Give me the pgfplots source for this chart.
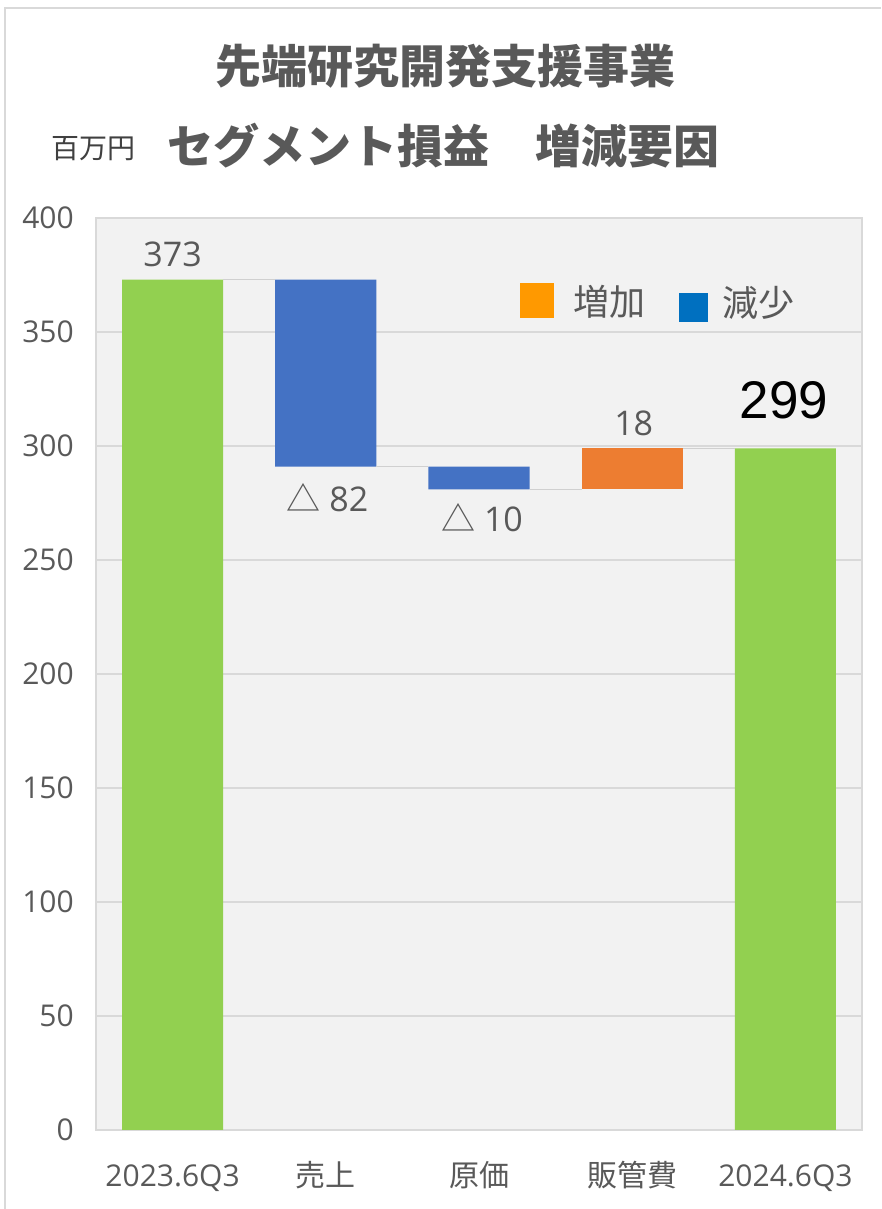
\documentclass[border=0pt]{standalone}
\usepackage{fontspec}
\setmainfont{Open Sans}
\newfontfamily\cjk{Noto Sans CJK JP}
\newfontfamily\arial{Liberation Sans}
\usepackage{pgfplots}
\usepackage{pgfplotstable}
\pgfplotsset{compat=1.18}
\definecolor{txt}{HTML}{595959}
\definecolor{gridc}{HTML}{D9D9D9}
\definecolor{bgc}{HTML}{F2F2F2}
\definecolor{grn}{HTML}{92D050}
\definecolor{blu}{HTML}{4472C4}
\definecolor{org}{HTML}{ED7D31}
\definecolor{lorg}{HTML}{FF9900}
\definecolor{lblu}{HTML}{0070C0}
\definecolor{conn}{HTML}{D0D0D0}

\pgfplotstableread{
x base tot dec inc
0 0   373 0  0
1 291 0   82 0
2 281 0   10 0
3 281 0   0  18
4 0   299 0  0
}\wf

\begin{document}
\begin{tikzpicture}[x=1pt,y=1pt]
\path[use as bounding box] (0,0) rectangle (881,1209);
\draw[gridc, line width=1.5pt] (5,0) -- (5,1201) -- (881,1201);
\node[txt, font=\cjk\bfseries\fontsize{46}{50}\selectfont, inner sep=0] at (445,1143) {先端研究開発支援事業};
\node[black!75, font=\cjk\fontsize{28}{30}\selectfont, inner sep=0] at (93,1060) {百万円};
\node[txt, font=\cjk\bfseries\fontsize{46}{50}\selectfont, inner sep=0] at (443.5,1063) {セグメント損益　増減要因};

\begin{axis}[
  at={(96pt,79pt)}, anchor=south west,
  scale only axis, width=766pt, height=912pt,
  xmin=-0.5, xmax=4.5, ymin=0, ymax=400,
  ytick={0,50,...,400},
  ymajorgrids, grid style={gridc, line width=1.2pt},
  axis background/.style={fill=bgc},
  axis line style={gridc, line width=1.2pt},
  tick style={draw=none},
  xtick={0,1,2,3,4},
  xticklabels={2023.6Q3,{\cjk 売上},{\cjk 原価},{\cjk 販管費},2024.6Q3},
  /pgf/number format/assume math mode=true,
  yticklabel style={txt, font=\fontsize{30}{30}\selectfont, anchor=east, inner sep=0pt, xshift=-22pt},
  xticklabel style={txt, font=\fontsize{30}{30}\selectfont, anchor=base, inner sep=0pt, yshift=-56pt},
  ybar stacked, bar width=0.66,
]
\addplot[draw=none, fill=none] table[x=x, y=base] {\wf};
\addplot[draw=none, fill=grn] table[x=x, y=tot] {\wf};
\addplot[draw=none, fill=blu] table[x=x, y=dec] {\wf};
\addplot[draw=none, fill=org] table[x=x, y=inc] {\wf};
\end{axis}

\begin{axis}[
  at={(96pt,79pt)}, anchor=south west,
  scale only axis, width=766pt, height=912pt,
  xmin=-0.5, xmax=4.5, ymin=0, ymax=400,
  hide axis, clip=false,
]
\addplot[conn, line width=1.5pt, unbounded coords=jump] coordinates {
 (0.33,373) (0.67,373) (nan,nan)
 (1.33,291) (1.67,291) (nan,nan)
 (2.33,281) (2.67,281) (nan,nan)
 (3.33,299) (3.67,299)
};
\node[txt, font=\fontsize{34}{34}\selectfont] at (axis cs:0,384) {373};
\node[txt, font=\fontsize{34}{34}\selectfont] at (axis cs:1.01,277.5) {{\cjk △} 82};
\node[txt, font=\fontsize{34}{34}\selectfont] at (axis cs:2.02,268.5) {{\cjk △} 10};
\node[txt, font=\fontsize{34}{34}\selectfont] at (axis cs:3.01,310) {18};
\node[black, font=\arial\fontsize{53}{53}\selectfont] at (axis cs:3.99,320) {299};
\end{axis}

\fill[lorg] (520,891) rectangle (554,926);
\node[txt, font=\cjk\fontsize{36}{36}\selectfont, inner sep=0] at (609,907) {増加};
\fill[lblu] (679,887) rectangle (708,916);
\node[txt, font=\cjk\fontsize{36}{36}\selectfont, inner sep=0] at (758.5,906) {減少};
\end{tikzpicture}
\end{document}
